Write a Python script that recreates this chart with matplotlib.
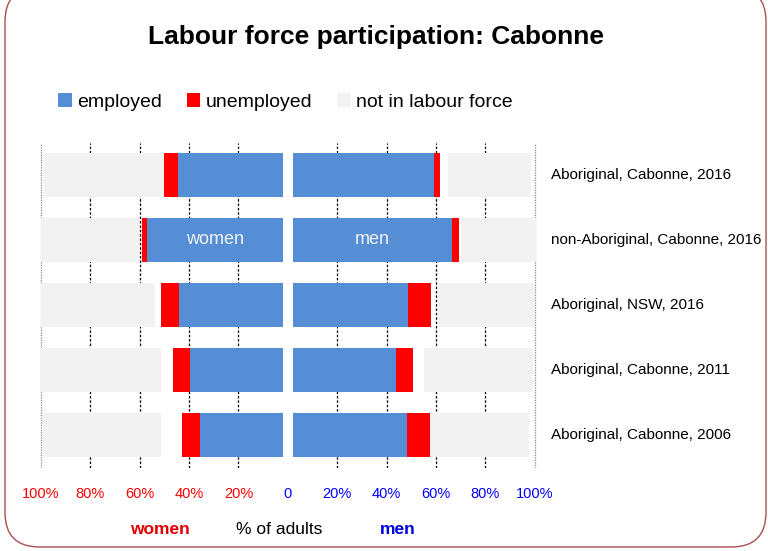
import matplotlib
matplotlib.use("Agg")
import matplotlib.pyplot as plt
from matplotlib.patches import Patch, FancyBboxPatch
import numpy as np

plt.rcParams['font.family'] = ['Liberation Sans', 'DejaVu Sans']

categories = ["Aboriginal, Cabonne, 2016", "non-Aboriginal, Cabonne, 2016",
              "Aboriginal, NSW, 2016", "Aboriginal, Cabonne, 2011",
              "Aboriginal, Cabonne, 2006"]
women_employed = [42.4, 54.8, 42.0, 37.7, 33.6]
women_unemployed = [5.9, 2.3, 7.3, 6.8, 7.2]
women_gap = [0.0, 1.1, 2.6, 4.9, 8.6]
women_not_in_lf = [48.5, 39.9, 46.2, 49.0, 47.5]
men_employed = [57.2, 64.5, 46.6, 41.7, 46.3]
men_unemployed = [2.4, 2.7, 9.4, 7.0, 9.2]
men_gap = [3.2, 0.8, 2.8, 4.5, 0.0]
men_not_in_lf = [33.6, 30.5, 38.9, 44.2, 40.3]
tick_values = [-100, -80, -60, -40, -20, 0, 20, 40, 60, 80, 100]
tick_labels = ["100%", "80%", "60%", "40%", "20%", "0", "20%", "40%", "60%", "80%", "100%"]

BLUE = "#558ED5"
RED = "#FF0000"
GREY = "#F2F2F2"
CENTER_GAP = 2.0

fig = plt.figure(figsize=(7.68, 5.51), dpi=100)
border = FancyBboxPatch((5/768, 4/551), 761/768, 560/551,
                        boxstyle="round,pad=0,rounding_size=0.045",
                        transform=fig.transFigure, facecolor="white",
                        edgecolor="#A85050", linewidth=1.0, zorder=-10,
                        mutation_aspect=768/551)
fig.patches.append(border)

ax = fig.add_axes([38.3/768, 1-468/551, 499/768, 325/551])
ax.set_facecolor("none")
y = np.arange(len(categories))
h = 0.667

we = np.array(women_employed); wu = np.array(women_unemployed)
wg = np.array(women_gap); wn = np.array(women_not_in_lf)
me = np.array(men_employed); mu = np.array(men_unemployed)
mg = np.array(men_gap); mn = np.array(men_not_in_lf)

# women (left, negative direction)
ax.barh(y, -we, left=-CENTER_GAP, height=h, color=BLUE, zorder=3)
ax.barh(y, -wu, left=-CENTER_GAP - we, height=h, color=RED, zorder=3)
ax.barh(y, -wn, left=-CENTER_GAP - we - wu - wg, height=h, color=GREY, zorder=3)
# men (right)
ax.barh(y, me, left=CENTER_GAP, height=h, color=BLUE, zorder=3)
ax.barh(y, mu, left=CENTER_GAP + me, height=h, color=RED, zorder=3)
ax.barh(y, mn, left=CENTER_GAP + me + mu + mg, height=h, color=GREY, zorder=3)

ax.set_xlim(-101, 101)
ax.set_ylim(4.51, -0.49)

for v in tick_values:
    if v == 0:
        continue
    if abs(v) == 100:
        ax.axvline(v, color="#888888", lw=0.9, ls=(0, (1, 1)), zorder=1)
    else:
        ax.axvline(v, color="black", lw=0.9, ls=(0, (2, 1.5)), zorder=1)

for s in ax.spines.values():
    s.set_visible(False)
ax.set_yticks([])
ax.set_xticks(tick_values)
ax.set_xticklabels(tick_labels, fontsize=10.5)
ax.tick_params(axis='x', length=0, pad=14)
for lbl, v in zip(ax.get_xticklabels(), tick_values):
    lbl.set_color(RED if v < 0 else "#0000FF")

# row labels
for yi, cat in zip(y, categories):
    ax.text(106.6, yi, cat, ha="left", va="center", fontsize=11, color="black")

# in-bar labels on second row
ax.text(-CENTER_GAP - we[1] / 2, y[1], "women", ha="center", va="center",
        fontsize=13, color="#F2F2F2", zorder=4)
ax.text(CENTER_GAP + me[1] / 2, y[1], "men", ha="center", va="center",
        fontsize=13, color="#F2F2F2", zorder=4)

fig.text(376/768, 1-37/551, "Labour force participation: Cabonne",
         ha="center", va="center", fontsize=19, fontweight="bold")

handles = [Patch(facecolor=BLUE, label="employed"),
           Patch(facecolor=RED, label="unemployed"),
           Patch(facecolor=GREY, label="not in labour force")]
fig.legend(handles=handles, loc="center left", bbox_to_anchor=(58/768, 1-102/551),
           ncol=3, frameon=False, fontsize=14, handlelength=0.7, handleheight=0.7,
           handletextpad=0.3, columnspacing=1.25, borderaxespad=0, borderpad=0)

fig.text(160/768, 1-530/551, "women", ha="center", va="center", fontsize=12.5,
         fontweight="bold", color="#E00000")
fig.text(279/768, 1-530/551, "% of adults", ha="center", va="center", fontsize=12.5,
         color="black")
fig.text(398/768, 1-530/551, "men", ha="center", va="center", fontsize=12.5,
         fontweight="bold", color="#0000E0")

fig.savefig("out.png", dpi=100)
